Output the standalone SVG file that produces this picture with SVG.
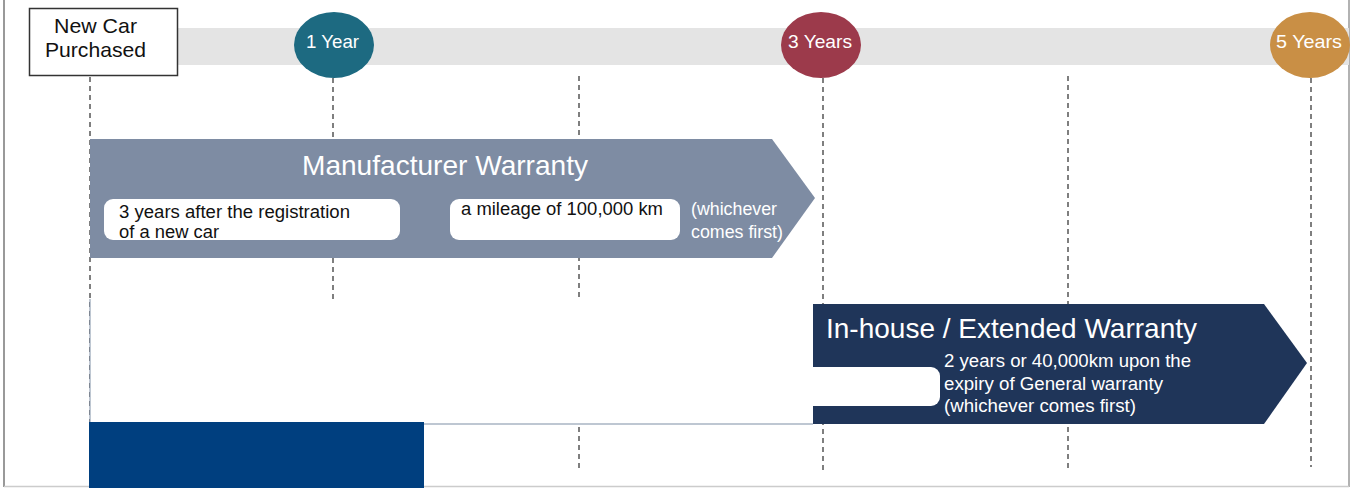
<svg xmlns="http://www.w3.org/2000/svg" width="1357" height="488" viewBox="0 0 1357 488">
<style>
text{font-family:"Liberation Sans",Arial,sans-serif}
.dash{stroke:#555;stroke-width:1.5;stroke-dasharray:5 4;fill:none}
.wt{fill:#fff}
.bk{fill:#111}
.pill{fill:#fff}
.sm{font-size:17.5px}
.ttl{font-size:28px}
.yr{font-size:19px}
</style>
<rect x="0" y="0" width="1357" height="488" fill="#fff"/>
<g id="frame">
<line x1="4" y1="0" x2="4" y2="487" stroke="#999" stroke-width="2"/>
<line x1="1349" y1="0" x2="1349" y2="487" stroke="#999" stroke-width="1.5"/>
<line x1="4" y1="486.5" x2="1349" y2="486.5" stroke="#ccc" stroke-width="1.5"/>
</g>
<g id="band"><rect x="178" y="28" width="1171" height="37" fill="#e4e4e4"/></g>
<g id="connectors">
<line class="dash" x1="90" y1="77" x2="90" y2="470"/>
<line class="dash" x1="333" y1="78" x2="333" y2="470"/>
<line class="dash" x1="579" y1="76" x2="579" y2="470"/>
<line class="dash" x1="823" y1="78" x2="823" y2="470"/>
<line class="dash" x1="1068" y1="76" x2="1068" y2="470"/>
<line class="dash" x1="1311" y1="78" x2="1311" y2="467"/>
</g>
<g id="new-car">
<rect x="29.5" y="8.5" width="148" height="67" fill="#fff" stroke="#333" stroke-width="1.5"/>
<text x="54" y="33" font-size="21" textLength="83" lengthAdjust="spacingAndGlyphs" class="bk">New Car</text>
<text x="45" y="57" font-size="21" textLength="101" lengthAdjust="spacingAndGlyphs" class="bk">Purchased</text>
</g>
<g id="y1">
<ellipse cx="334" cy="45" rx="40" ry="33" fill="#1d6a81"/>
<text x="306" y="48" class="yr wt" textLength="53" lengthAdjust="spacingAndGlyphs">1 Year</text>
</g>
<g id="y3">
<ellipse cx="821" cy="45" rx="40" ry="33" fill="#9c3a4b"/>
<text x="788" y="48" class="yr wt" textLength="64" lengthAdjust="spacingAndGlyphs">3 Years</text>
</g>
<g id="y5">
<ellipse cx="1310" cy="45" rx="40" ry="33" fill="#c98f45"/>
<text x="1276" y="48" class="yr wt" textLength="66" lengthAdjust="spacingAndGlyphs">5 Years</text>
</g>
<g id="manufacturer">
<polygon points="90,139 772,139 815,198 772,258 90,258" fill="#7e8ca3"/>
<text x="302" y="175" class="ttl wt" textLength="286" lengthAdjust="spacingAndGlyphs">Manufacturer Warranty</text>
<rect x="104" y="199" width="296" height="41" rx="9" class="pill"/>
<text x="119" y="218" class="sm bk" textLength="231" lengthAdjust="spacingAndGlyphs">3 years after the registration</text>
<text x="119" y="238" class="sm bk" textLength="100" lengthAdjust="spacingAndGlyphs">of a new car</text>
<rect x="450" y="199" width="230" height="41" rx="9" class="pill"/>
<text x="461" y="215" class="sm bk" textLength="202" lengthAdjust="spacingAndGlyphs">a mileage of 100,000 km</text>
<text x="691" y="215" class="sm wt" textLength="86" lengthAdjust="spacingAndGlyphs">(whichever</text>
<text x="691" y="238" class="sm wt" textLength="92" lengthAdjust="spacingAndGlyphs">comes first)</text>
</g>
<g id="extended">
<polygon points="812,304 1264,304 1307,363 1264,424 812,424" fill="#1f3559"/>
<text x="826" y="338" class="ttl wt" textLength="371" lengthAdjust="spacingAndGlyphs">In-house / Extended Warranty</text>
<rect x="780" y="367" width="160" height="39" rx="9" class="pill"/>
<text x="944" y="367" class="sm wt" textLength="247" lengthAdjust="spacingAndGlyphs">2 years or 40,000km upon the</text>
<text x="944" y="390" class="sm wt" textLength="219" lengthAdjust="spacingAndGlyphs">expiry of General warranty</text>
<text x="944" y="412" class="sm wt" textLength="192" lengthAdjust="spacingAndGlyphs">(whichever comes first)</text>
</g>
<g id="cover">
<rect x="90" y="299" width="723" height="125" fill="#fff"/>
<line x1="90" y1="299" x2="90" y2="424" stroke="#7f8fa6" stroke-width="1"/>
<line x1="424" y1="424" x2="813" y2="424" stroke="#7f8fa6" stroke-width="1.2"/>
</g>
<g id="blue-block"><rect x="89" y="422" width="335" height="66" fill="#003f7f"/></g>
</svg>
